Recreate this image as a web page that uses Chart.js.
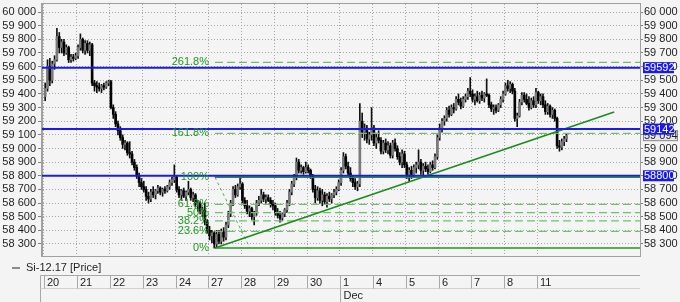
<!DOCTYPE html>
<html>
<head>
<meta charset="utf-8">
<script src="https://cdn.jsdelivr.net/npm/chart.js@4.4.0/dist/chart.umd.min.js"></script>
<style>
  html, body { margin: 0; padding: 0; background: #f4f4f4; }
  #wrap { position: relative; width: 680px; height: 302px; }
</style>
</head>
<body>
<div id="wrap"><canvas id="chart"></canvas></div>
<script>
// hourly candles, 14 per trading day
const days = ['20', '21', '22', '23', '24', '27', '28', '29', '30', '1', '4', '5', '6', '7', '8', '11'];
const months = ['Dec'];
const monthStartDay = [9];
const perDay = 14;
const seriesName = 'Si-12.17 [Price]';

const open = [
  59380,59440,59600,59500,59620,59650,59820,59740,59780,59700,59740,59650,59670,59660,
  59680,59740,59800,59720,59770,59720,59760,59480,59460,59450,59440,59460,59450,59480,
  59490,59300,59250,59180,59130,59080,59030,59040,58970,58960,58900,58860,58800,58750,
  58720,58700,58650,58630,58680,58660,58690,58710,58680,58700,58690,58720,58750,58770,
  58790,58700,58660,58690,58650,58680,58700,58640,58660,58590,58600,58540,58550,58460,
  58400,58360,58380,58300,58370,58320,58390,58350,58440,58520,58600,58700,58660,58720,
  58740,58620,58580,58540,58560,58500,58530,58600,58620,58660,58630,58640,58620,58590,
  58580,58530,58510,58490,58520,58550,58600,58680,58740,58790,58900,58840,58860,58830,
  58860,58840,58800,58700,58640,58690,58620,58660,58610,58650,58630,58660,58680,58700,
  58750,58840,58940,58870,58820,58780,58750,58720,58740,59200,59120,59150,59070,59100,
  59150,59040,59080,59060,58980,59040,58990,59020,58950,59040,59000,58940,58900,58960,
  58880,58800,58840,58800,58860,58880,58900,58840,58870,58850,58830,58880,58860,58940,
  59080,59150,59200,59220,59280,59250,59300,59290,59360,59340,59310,59360,59380,59420,
  59400,59360,59380,59350,59390,59370,59400,59390,59320,59290,59300,59280,59320,59360,
  59400,59460,59440,59470,59420,59220,59240,59340,59390,59360,59330,59300,59350,59320,
  59410,59350,59380,59320,59270,59310,59250,59280,59220,59020,59010,59050,59070
];
const high = [
  59480,59650,59660,59640,59680,59880,59850,59800,59800,59760,59750,59690,59690,59700,
  59760,59840,59810,59790,59790,59780,59770,59500,59490,59480,59470,59480,59490,59500,
  59500,59320,59270,59200,59160,59100,59060,59050,59050,58980,58920,58880,58820,58780,
  58760,58720,58680,58700,58720,58700,58730,58720,58710,58720,58730,58770,58790,58880,
  58800,58720,58700,58710,58690,58760,58710,58680,58670,58620,58610,58570,58600,58480,
  58430,58400,58390,58400,58400,58410,58420,58460,58540,58620,58720,58730,58740,58790,
  58750,58640,58620,58580,58570,58540,58620,58650,58700,58680,58660,58660,58640,58620,
  58600,58560,58540,58530,58560,58620,58700,58760,58810,58930,58920,58880,58870,58900,
  58880,58850,58810,58730,58720,58710,58700,58680,58670,58680,58670,58700,58720,58770,
  58860,58970,58960,58900,58860,58800,58780,58760,59330,59260,59180,59170,59120,59300,
  59170,59110,59130,59080,59060,59070,59050,59040,59060,59070,59020,58970,58990,58980,
  58900,58860,58870,58880,58900,58990,58920,58890,58900,58880,58900,58910,58960,59100,
  59180,59220,59240,59300,59310,59320,59330,59380,59400,59370,59380,59400,59440,59520,
  59430,59400,59420,59410,59420,59410,59510,59400,59340,59320,59320,59330,59380,59420,
  59480,59500,59490,59480,59440,59260,59360,59410,59410,59400,59380,59370,59380,59440,
  59420,59400,59400,59350,59330,59320,59300,59290,59230,59060,59070,59090,59110
];
const low = [
  59350,59420,59460,59480,59580,59640,59700,59700,59680,59690,59630,59630,59640,59650,
  59660,59720,59700,59690,59700,59680,59460,59420,59410,59420,59410,59430,59440,59460,
  59290,59220,59160,59100,59060,59000,58990,58950,58930,58880,58840,58780,58720,58700,
  58680,58620,58600,58610,58640,58630,58670,58660,58650,58670,58680,58700,58730,58750,
  58680,58640,58620,58640,58620,58660,58620,58610,58570,58540,58520,58500,58440,58380,
  58330,58310,58270,58280,58300,58300,58320,58330,58420,58500,58580,58640,58650,58700,
  58600,58560,58520,58500,58480,58440,58510,58580,58600,58610,58600,58610,58570,58550,
  58510,58490,58460,58470,58500,58530,58580,58660,58720,58770,58820,58820,58810,58820,
  58820,58780,58680,58600,58620,58600,58580,58590,58570,58610,58600,58640,58660,58690,
  58730,58820,58850,58800,58760,58720,58700,58690,58720,59080,59060,59040,59030,59060,
  59020,59000,59040,58960,58960,58970,58960,58930,58930,58980,58920,58880,58860,58860,
  58780,58760,58780,58790,58820,58850,58810,58800,58830,58810,58820,58840,58850,58920,
  59060,59120,59170,59200,59230,59240,59260,59280,59320,59290,59300,59340,59360,59380,
  59340,59320,59340,59330,59350,59340,59380,59300,59270,59250,59260,59270,59300,59340,
  59390,59420,59410,59400,59200,59160,59230,59320,59340,59320,59280,59290,59300,59300,
  59330,59320,59300,59250,59250,59230,59220,59200,59000,58980,58990,59020,59050
];
const close = [
  59440,59600,59500,59620,59650,59820,59740,59780,59700,59740,59650,59670,59660,59680,
  59740,59800,59720,59770,59720,59760,59480,59460,59450,59440,59460,59450,59480,59490,
  59300,59250,59180,59130,59080,59030,59040,58970,58960,58900,58860,58800,58750,58720,
  58700,58650,58630,58680,58660,58690,58710,58680,58700,58690,58720,58750,58770,58790,
  58700,58660,58690,58650,58680,58700,58640,58660,58590,58600,58540,58550,58460,58400,
  58360,58380,58300,58370,58320,58390,58350,58440,58520,58600,58700,58660,58720,58740,
  58620,58580,58540,58560,58500,58530,58600,58620,58660,58630,58640,58620,58590,58580,
  58530,58510,58490,58520,58550,58600,58680,58740,58790,58900,58840,58860,58830,58860,
  58840,58800,58700,58640,58690,58620,58660,58610,58650,58630,58660,58680,58700,58750,
  58840,58940,58870,58820,58780,58750,58720,58740,59200,59120,59150,59070,59100,59150,
  59040,59080,59060,58980,59040,58990,59020,58950,59040,59000,58940,58900,58960,58880,
  58800,58840,58800,58860,58880,58900,58840,58870,58850,58830,58880,58860,58940,59080,
  59150,59200,59220,59280,59250,59300,59290,59360,59340,59310,59360,59380,59420,59400,
  59360,59380,59350,59390,59370,59400,59390,59320,59290,59300,59280,59320,59360,59400,
  59460,59440,59470,59420,59220,59240,59340,59390,59360,59330,59300,59350,59320,59410,
  59350,59380,59320,59270,59310,59250,59280,59220,59020,59010,59050,59070,59094
];

const yTicks = [58300,58400,58500,58600,58700,58800,58900,59000,59100,59200,59300,59400,59500,59600,59700,59800,59900,60000];

const levels = [59592, 59142, 58800];
const lastPrice = 59094;

// fibonacci grid drawn from the Nov 27 swing
const fibValues = [58270, 58393, 58469, 58530, 58591, 58790, 59111, 59631];
const fibLabels = ['0%', '23.6%', '38.2%', '50%', '61.8%', '100%', '161.8%', '261.8%'];
const fibStartX = 72.3;
const fibDiagonal = [{ x: 72.3, y: 58790 }, { x: 87.2, y: 58270 }];
const trendLine = [{ x: 72.3, y: 58270 }, { x: 242.3, y: 59268 }];

const xMin = -1.35, xMax = 253.3;
const FONT = "'Liberation Sans', Arial, sans-serif";
Chart.defaults.font.family = FONT;
Chart.defaults.font.size = 11;
Chart.defaults.color = '#1e1e1e';

const fmt = v => String(v).replace(/\B(?=(\d{3})+(?!\d))/g, ' ');

function hLine(v, x0, color, width, dash, order) {
  return {
    type: 'line', data: [{ x: x0, y: v }, { x: xMax, y: v }],
    borderColor: color, borderWidth: width, borderDash: dash || [],
    pointRadius: 0, fill: false, order: order
  };
}

const datasets = [
  {
    type: 'bar', label: seriesName,
    data: low.map((l, i) => ({ x: i, y: [l, high[i]] })),
    backgroundColor: '#111111', barThickness: 1, grouped: false, order: 4
  },
  {
    type: 'bar', label: 'body',
    data: open.map((o, i) => ({ x: i, y: [o, close[i]] })),
    backgroundColor: close.map((c, i) => c >= open[i] ? '#7a7a7a' : '#000000'),
    barThickness: 2, grouped: false, minBarLength: 1, order: 3
  }
];
fibValues.forEach((v, i) => {
  const solid = fibLabels[i] === '0%' || fibLabels[i] === '100%';
  datasets.push(hLine(v, fibStartX, solid ? '#229422' : '#74bc74', solid ? 1.5 : 1.2, solid ? [] : [8, 4], 2));
});
datasets.push({ type: 'line', data: fibDiagonal, borderColor: '#5cae5c', borderWidth: 1, borderDash: [3, 3], pointRadius: 0, order: 2 });
datasets.push({ type: 'line', data: trendLine, borderColor: '#1c8c1c', borderWidth: 1.6, pointRadius: 0, order: 1 });
levels.forEach(v => datasets.push(hLine(v, xMin, '#1a1aee', 2, [], 0)));

const overlay = {
  id: 'overlay',
  beforeDraw(chart) {
    const ctx = chart.ctx;
    ctx.save();
    ctx.fillStyle = '#f4f4f4';
    ctx.fillRect(0, 0, chart.width, chart.height);
    ctx.restore();
  },
  afterDatasetsDraw(chart) {
    const ctx = chart.ctx, xs = chart.scales.x, ys = chart.scales.y;
    ctx.save();
    ctx.font = '11px ' + FONT;
    ctx.fillStyle = '#1f9a1f';
    ctx.textAlign = 'right';
    ctx.textBaseline = 'middle';
    const lx = xs.getPixelForValue(fibStartX) - 6;
    fibValues.forEach((v, i) => ctx.fillText(fibLabels[i], lx, ys.getPixelForValue(v)));
    ctx.restore();
  },
  afterDraw(chart) {
    const ctx = chart.ctx, xs = chart.scales.x, ys = chart.scales.y;
    const a = chart.chartArea;
    ctx.save();
    ctx.setLineDash([]);
    ctx.lineWidth = 1;
    ctx.strokeStyle = '#a0a0a0';
    ctx.strokeRect(Math.round(a.left) - 0.5, Math.round(a.top) - 0.5, Math.round(a.right - a.left) + 1, Math.round(a.bottom - a.top) + 1);

    // price boxes on the right axis
    ctx.font = '11px ' + FONT;
    ctx.textBaseline = 'middle';
    ctx.textAlign = 'left';
    const bx = a.right + 3;
    let y = ys.getPixelForValue(lastPrice);
    ctx.fillStyle = '#e6e6e6';
    ctx.fillRect(bx, y - 5.5, 35, 11);
    ctx.strokeStyle = '#8a8a8a';
    ctx.strokeRect(bx + 0.5, y - 5, 34, 10);
    ctx.fillStyle = '#1e1e1e';
    ctx.fillText(fmt(lastPrice), bx + 1, y + 0.5);
    levels.forEach(v => {
      y = ys.getPixelForValue(v);
      ctx.fillStyle = '#1a1aee';
      ctx.fillRect(bx, y - 5.5, 31, 11);
      ctx.fillStyle = '#ffffff';
      ctx.fillText(String(v), bx + 1, y + 0.5);
    });

    // legend row
    ctx.fillStyle = '#8c8c8c';
    ctx.fillRect(12, 267, 8, 2);
    ctx.fillStyle = '#1e1e1e';
    ctx.fillText(seriesName, 26, 268);

    // date panel
    const top = 275.5, mid = 288.5, bot = 302;
    ctx.strokeStyle = '#a8a8a8';
    ctx.beginPath();
    ctx.moveTo(40.5, top); ctx.lineTo(a.right, top);
    ctx.moveTo(40.5, top); ctx.lineTo(40.5, bot);
    ctx.stroke();
    ctx.strokeStyle = '#d0d0d0';
    ctx.beginPath();
    ctx.moveTo(40.5, mid); ctx.lineTo(a.right, mid);
    ctx.stroke();
    ctx.strokeStyle = '#a8a8a8';
    ctx.fillStyle = '#1e1e1e';
    days.forEach((d, i) => {
      const px = Math.round(xs.getPixelForValue(i * perDay - 0.5)) + 0.5;
      ctx.beginPath(); ctx.moveTo(px, top); ctx.lineTo(px, mid); ctx.stroke();
      ctx.fillText(d, px + 2.5, 282.5);
    });
    months.forEach((m, i) => {
      const px = Math.round(xs.getPixelForValue(monthStartDay[i] * perDay - 0.5)) + 0.5;
      ctx.beginPath(); ctx.moveTo(px, mid); ctx.lineTo(px, bot); ctx.stroke();
      ctx.fillText(m, px + 3, 295.5);
    });
    ctx.restore();
  }
};

const yAxis = (position, width, tickLen, pad) => ({
  position: position,
  min: 58212, max: 60059,
  afterBuildTicks: s => { s.ticks = yTicks.map(v => ({ value: v })); },
  afterFit: s => { s.width = width; s.paddingTop = 0; s.paddingBottom = 0; },
  ticks: { autoSkip: false, padding: pad, color: '#1e1e1e', callback: v => fmt(v) },
  grid: {
    color: '#a6a6a6', drawOnChartArea: position === 'left',
    tickLength: tickLen, tickColor: '#808080', tickBorderDash: []
  },
  border: { color: '#a0a0a0', dash: [1, 2] }
});

new Chart(document.getElementById('chart'), {
  type: 'bar',
  data: { datasets: datasets },
  options: {
    responsive: true,
    maintainAspectRatio: false,
    animation: false,
    events: [],
    layout: { padding: { left: 0, top: 4, right: 0, bottom: 46 } },
    scales: {
      x: {
        type: 'linear', min: xMin, max: xMax, offset: false,
        afterBuildTicks: s => { s.ticks = days.map((d, i) => ({ value: i * perDay - 0.5 })); },
        afterFit: s => { s.height = 0; s.paddingLeft = 0; s.paddingRight = 0; },
        ticks: { display: false },
        grid: { color: '#a6a6a6', drawTicks: false, offset: false },
        border: { color: '#a0a0a0', dash: [1, 2] }
      },
      y: yAxis('left', 42, 4, 2),
      y2: yAxis('right', 40, 3, 1)
    },
    plugins: {
      tooltip: { enabled: false },
      legend: { display: false }
    }
  },
  plugins: [overlay]
});
</script>
</body>
</html>
